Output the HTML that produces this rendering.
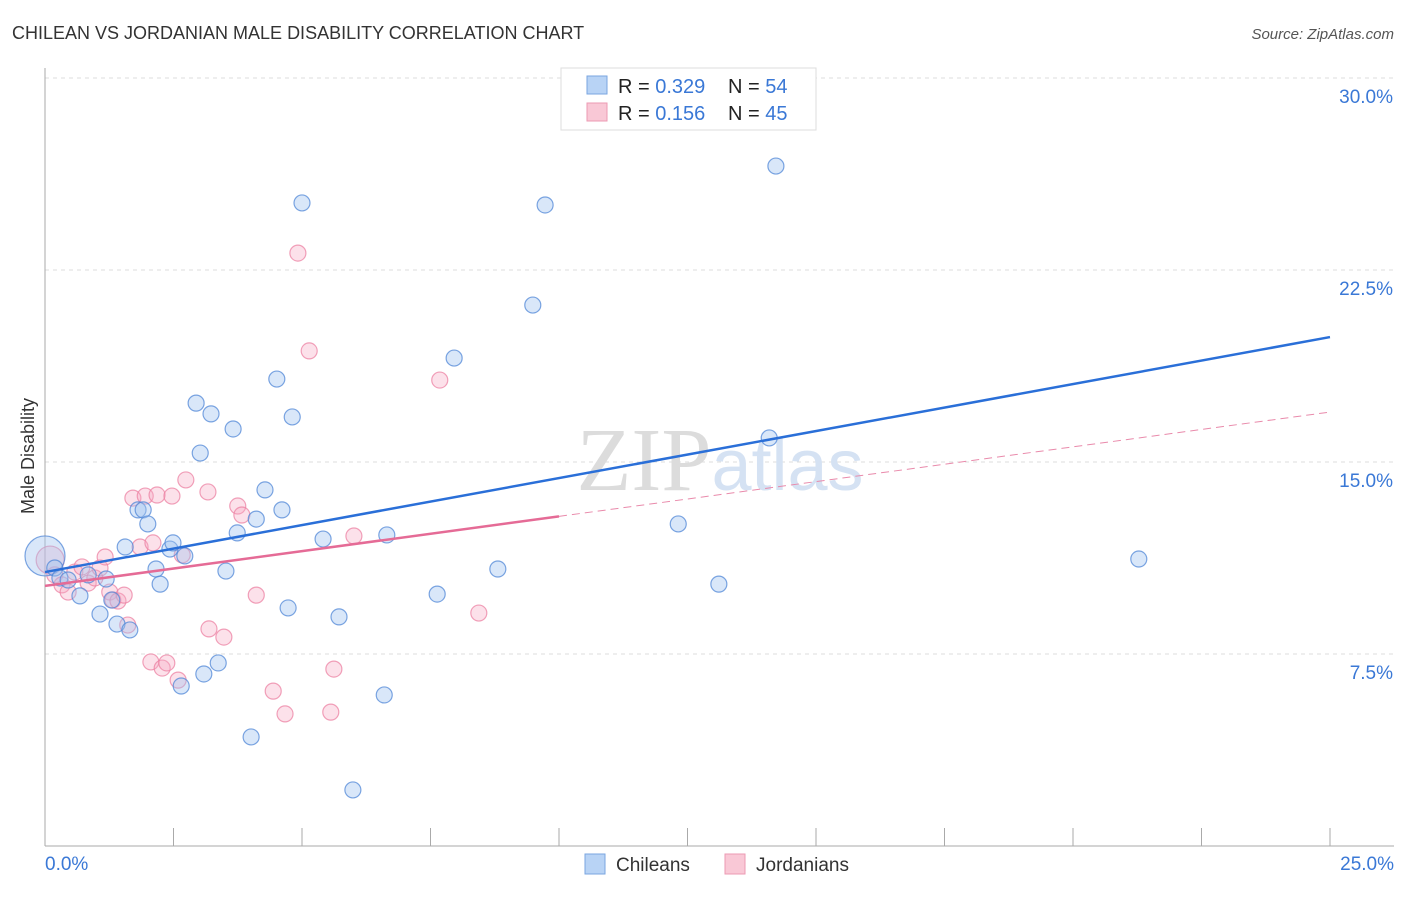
<!DOCTYPE html>
<html><head><meta charset="utf-8">
<style>
html,body{margin:0;padding:0;background:#fff;}
body{width:1406px;height:892px;overflow:hidden;font-family:"Liberation Sans",sans-serif;}
svg text{font-family:"Liberation Sans",sans-serif;}
</style></head>
<body>
<svg id="chart" width="1406" height="892" viewBox="0 0 1406 892">
<text x="12" y="39" font-size="18" fill="#333">CHILEAN VS JORDANIAN MALE DISABILITY CORRELATION CHART</text>
<text x="1394" y="39" font-size="15" fill="#555" text-anchor="end" font-style="italic">Source: ZipAtlas.com</text>
<text x="34" y="456" font-size="18" fill="#333" text-anchor="middle" transform="rotate(-90 34 456)">Male Disability</text>
<g id="grid"></g>
<g id="axes"></g>
<text x="720" y="490" font-size="90" fill="#e4e4e4" text-anchor="middle" font-family="Liberation Serif"><tspan fill="#dcdcdc" font-family="Liberation Serif">ZIP</tspan><tspan fill="#d5e2f3" font-family="Liberation Sans" font-size="72">atlas</tspan></text>
<g id="pts"></g>
<g id="lines"></g>
<g>
<rect x="561" y="68" width="255" height="62" fill="#fff" stroke="#ddd"/>
<rect x="587" y="76" width="20" height="18" fill="#b8d3f5" stroke="#7aa6e0"/>
<text x="618" y="93" font-size="20" fill="#222">R = <tspan fill="#3a78d6">0.329</tspan></text>
<text x="728" y="93" font-size="20" fill="#222">N = <tspan fill="#3a78d6">54</tspan></text>
<rect x="587" y="103" width="20" height="18" fill="#f9c8d6" stroke="#ec9ab3"/>
<text x="618" y="120" font-size="20" fill="#222">R =  <tspan fill="#3a78d6">0.156</tspan></text>
<text x="728" y="120" font-size="20" fill="#222">N = <tspan fill="#3a78d6">45</tspan></text>
</g>
<g>
<rect x="585" y="854" width="20" height="20" fill="#b8d3f5" stroke="#7aa6e0"/>
<text x="616" y="871" font-size="19" fill="#333">Chileans</text>
<rect x="725" y="854" width="20" height="20" fill="#f9c8d6" stroke="#ec9ab3"/>
<text x="756" y="871" font-size="19" fill="#333">Jordanians</text>
</g>
</svg>
<script>
const blueX=[0.10,0.19,0.29,0.45,0.68,0.84,1.07,1.19,1.30,1.40,1.56,1.65,1.81,1.91,2.00,2.16,2.24,2.43,2.49,2.65,2.72,2.94,3.02,3.09,3.23,3.37,3.52,3.66,3.74,4.01,4.11,4.28,4.51,4.61,4.73,4.81,5.00,5.41,5.72,5.99,6.60,6.65,7.63,7.96,8.81,9.49,9.73,12.32,13.11,14.09,14.22,21.28];
const blueY=[11.33,10.86,10.47,10.39,9.77,10.59,9.06,10.43,9.61,8.67,11.68,8.44,13.13,13.13,12.58,10.82,10.23,11.60,11.84,6.25,11.33,17.30,15.35,6.72,16.88,7.15,10.74,16.29,12.23,4.26,12.77,13.91,18.24,13.13,9.30,16.76,25.12,11.99,8.95,2.19,5.90,12.15,9.84,19.06,10.82,21.13,25.04,12.58,10.23,15.94,26.56,11.21];
const pinkX=[0.10,0.19,0.33,0.45,0.58,0.72,0.84,0.97,1.07,1.17,1.26,1.32,1.42,1.54,1.61,1.71,1.85,1.95,2.06,2.10,2.18,2.28,2.37,2.47,2.59,2.67,2.74,3.17,3.19,3.48,3.75,3.83,4.11,4.44,4.67,4.92,5.14,5.56,5.62,6.01,7.68,8.44];
const pinkY=[11.17,10.59,10.20,9.92,10.70,10.90,10.27,10.47,10.86,11.29,9.92,9.61,9.57,9.80,8.63,13.59,11.68,13.67,7.19,11.84,13.71,6.95,7.15,13.67,6.48,11.37,14.30,13.83,8.48,8.16,13.28,12.93,9.80,6.05,5.16,23.16,19.34,5.23,6.91,12.11,18.20,9.10];
const yTicks=[7.5,15.0,22.5,30.0];
const yTickLabels=["7.5%","15.0%","22.5%","30.0%"];
const xTicks=[0,2.5,5,7.5,10,12.5,15,17.5,20,22.5,25];
const blueTrend=[10.70,19.88];   // value at x=0, x=25
const pinkTrend=[10.16,16.95];
const pinkSolidEnd=10;

const X=v=>45+v*51.4, Y=v=>846-v*25.6;
const NS="http://www.w3.org/2000/svg";
function mk(tag,attrs,parent){const e=document.createElementNS(NS,tag);for(const k in attrs)e.setAttribute(k,attrs[k]);parent.appendChild(e);return e;}
const grid=document.getElementById('grid'),axes=document.getElementById('axes'),pts=document.getElementById('pts'),lines=document.getElementById('lines');
yTicks.forEach((t,i)=>{
 const l=mk('line',{x1:45,x2:1394,y1:Y(t),y2:Y(t),stroke:'#ddd','stroke-dasharray':'4,4'},grid);
 
 
 const tx=mk('text',{x:1393,y:Y(t)+25,'font-size':19,fill:'#3a78d6','text-anchor':'end'},axes);
 tx.textContent=yTickLabels[i];
 
 
});
const ax=mk('line',{x1:45,x2:45,y1:68,y2:846,stroke:'#aaa'},axes);


const bx=mk('line',{x1:45,x2:1394,y1:846,y2:846,stroke:'#aaa'},axes);


xTicks.forEach(t=>{
 const l=mk('line',{x1:X(t),x2:X(t),y1:828,y2:846,stroke:'#aaa'},axes);
 
 
});
const xl0=mk('text',{x:45,y:870,'font-size':19,fill:'#3a78d6'},axes);xl0.textContent=xTicks[0].toFixed(1)+'%';


const xl1=mk('text',{x:1394,y:870,'font-size':19,fill:'#3a78d6','text-anchor':'end'},axes);xl1.textContent=xTicks[xTicks.length-1].toFixed(1)+'%';



pinkX.forEach((x,i)=>{
 const c=mk('circle',{cx:X(x),cy:Y(pinkY[i]),r:i===0?14:8,fill:'rgba(247,170,195,0.35)',stroke:'rgba(236,130,163,0.75)','stroke-width':1.2},pts);
 
 
});
blueX.forEach((x,i)=>{
 const c=mk('circle',{cx:i===0?45:X(x),cy:Y(blueY[i]),r:i===0?20:8,fill:'rgba(160,195,240,0.4)',stroke:'rgba(80,135,215,0.75)','stroke-width':1.2},pts);
 
 
});
const bl=mk('line',{x1:X(0),y1:Y(blueTrend[0]),x2:X(25),y2:Y(blueTrend[1]),stroke:'#2a6fd8','stroke-width':2.5},lines);


const pAt=v=>pinkTrend[0]+(pinkTrend[1]-pinkTrend[0])*v/25;
const pl=mk('line',{x1:X(0),y1:Y(pAt(0)),x2:X(pinkSolidEnd),y2:Y(pAt(pinkSolidEnd)),stroke:'#e56b96','stroke-width':2.5},lines);


const pd=mk('line',{x1:X(pinkSolidEnd),y1:Y(pAt(pinkSolidEnd)),x2:X(25),y2:Y(pAt(25)),stroke:'#e98aab','stroke-width':1,'stroke-dasharray':'8,5'},lines);


</script>
</body></html>
